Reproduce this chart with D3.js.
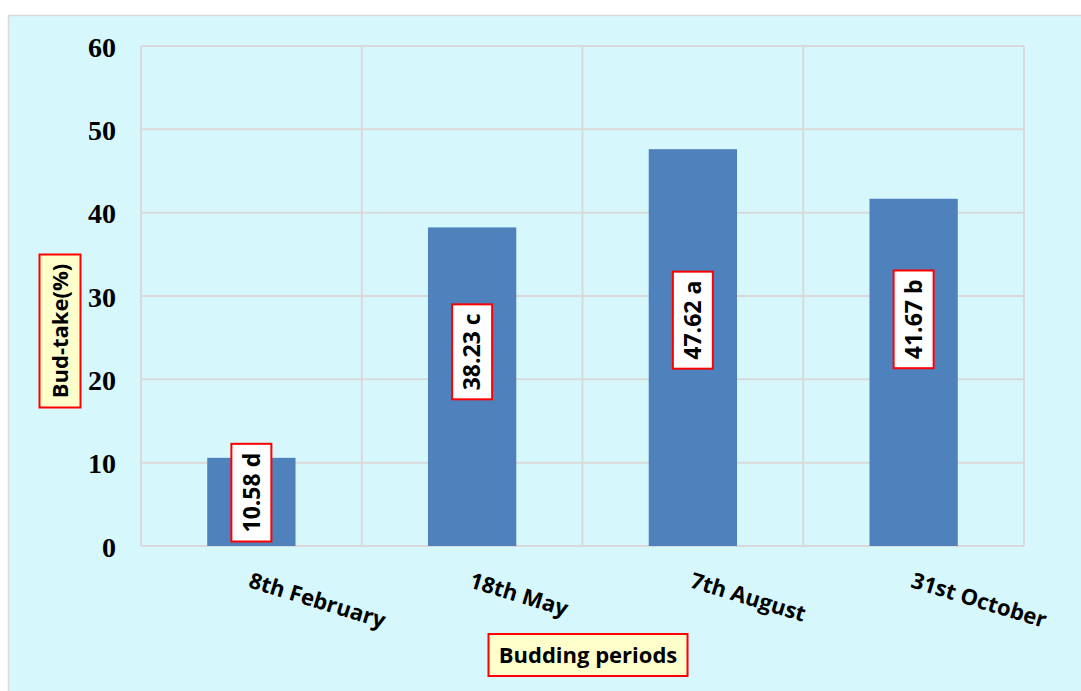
<!DOCTYPE html>
<html>
<head>
<meta charset="utf-8">
<script src="https://cdn.jsdelivr.net/npm/d3@7"></script>
<style>
  body { margin: 0; background: #fff; }
</style>
</head>
<body>
<div class="chart"></div>
<script>
const periods = ["8th February", "18th May", "7th August", "31st October"]
const budTake = [10.58, 38.23, 47.62, 41.67]
const letters = ["d", "c", "a", "b"]
const yTicks = [0, 10, 20, 30, 40, 50, 60]
// where the value boxes sit, in y units (hand placed in the original)
const labelAt = [6.4, 23.3, 27.1, 27.2]

const width = 1081
const height = 691
const plot = { left: 141, right: 1024, top: 46, bottom: 546 }
const labelFont = "'Open Sans'"

const svg = d3.select(".chart").append("svg")
    .attr("width", width)
    .attr("height", height)

// panel
svg.append("rect")
    .attr("x", 8.5).attr("y", 15.5)
    .attr("width", width).attr("height", height)
    .attr("fill", "#d6f8fc")
    .attr("stroke", "#d9d9d9")
    .attr("stroke-width", 1.5)

const x = d3.scaleBand()
    .domain(periods)
    .range([plot.left, plot.right])
    .paddingInner(0.6)
    .paddingOuter(0.3)

const xBand = d3.scaleBand()
    .domain(periods)
    .range([plot.left, plot.right])

const y = d3.scaleLinear()
    .domain([0, 60])
    .range([plot.bottom, plot.top])

// grid
const grid = svg.append("g")
grid.selectAll(".h").data(yTicks).join("line")
    .attr("x1", plot.left).attr("x2", plot.right)
    .attr("y1", d => y(d)).attr("y2", d => y(d))
    .attr("stroke", "#d9d9d9").attr("stroke-width", 2)
grid.selectAll(".v").data(periods.concat([null])).join("line")
    .attr("x1", (d, i) => i < periods.length ? xBand(d) : plot.right)
    .attr("x2", (d, i) => i < periods.length ? xBand(d) : plot.right)
    .attr("y1", plot.top).attr("y2", plot.bottom)
    .attr("stroke", "#d9d9d9").attr("stroke-width", 2)

// bars
svg.selectAll(".bar").data(budTake).join("rect")
    .attr("x", (d, i) => x(periods[i]))
    .attr("y", d => y(d))
    .attr("width", x.bandwidth())
    .attr("height", d => y(0) - y(d))
    .attr("fill", "#4f81bd")

// y axis
const yAxis = d3.axisLeft(y).tickValues(yTicks).tickSize(0).tickPadding(0)
const yg = svg.append("g")
    .attr("transform", `translate(${plot.left - 25},0)`)
    .call(yAxis)
yg.select(".domain").remove()
yg.selectAll("text")
    .attr("font-family", "Liberation Serif")
    .attr("font-weight", "bold")
    .attr("font-size", "28px")
    .attr("fill", "#000")
    .attr("dy", "0.36em")

// x axis labels
const xg = svg.append("g")
periods.forEach((p, i) => {
    xg.append("text")
        .attr("transform", `translate(${xBand(p) + xBand.bandwidth() / 2 - 4}, 587) rotate(17)`)
        .attr("font-family", labelFont)
        .attr("font-weight", "bold")
        .attr("font-size", "22px")
        .text(p)
})

// value boxes
budTake.forEach((d, i) => {
    const cx = x(periods[i]) + x.bandwidth() / 2
    const cy = y(labelAt[i])
    const g = svg.append("g").attr("transform", `translate(${cx},${cy})`)
    const box = g.append("rect")
    const t = g.append("text")
        .attr("transform", "rotate(-90)")
        .attr("text-anchor", "middle")
        .attr("dy", "0.36em")
        .attr("font-family", labelFont)
        .attr("font-weight", "bold")
        .attr("font-size", "23px")
        .text(`${d.toFixed(2)} ${letters[i]}`)
    const len = t.node().getComputedTextLength()
    box.attr("x", -20).attr("y", -len / 2 - 9)
        .attr("width", 40).attr("height", len + 18)
        .attr("fill", "#fff")
        .attr("stroke", "#ff0000").attr("stroke-width", 2)
})

// axis titles
function titleBox(cx, cy, w, h, label, rot) {
    const g = svg.append("g").attr("transform", `translate(${cx},${cy})`)
    g.append("rect")
        .attr("x", -w / 2).attr("y", -h / 2)
        .attr("width", w).attr("height", h)
        .attr("fill", "#ffffcc")
        .attr("stroke", "#ff0000").attr("stroke-width", 2)
    g.append("text")
        .attr("transform", `rotate(${rot})`)
        .attr("text-anchor", "middle")
        .attr("dy", "0.36em")
        .attr("font-family", labelFont)
        .attr("font-weight", "bold")
        .attr("font-size", "22px")
        .text(label)
}
titleBox(60, 331, 41, 153, "Bud-take(%)", -90)
titleBox(588, 655, 199, 42, "Budding periods", 0)
</script>
</body>
</html>
